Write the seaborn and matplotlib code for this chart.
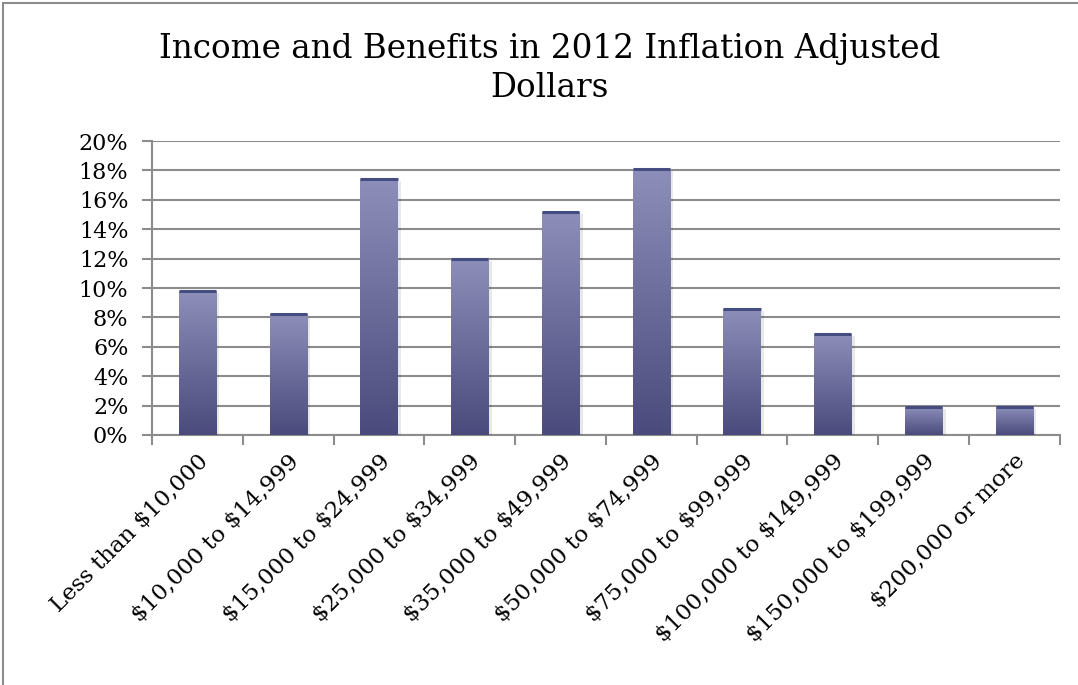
import numpy as np
import pandas as pd
import matplotlib
matplotlib.use("Agg")
import matplotlib.pyplot as plt
import matplotlib.patheffects as pe
from matplotlib.colors import LinearSegmentedColormap
from matplotlib.patches import Rectangle
from matplotlib.ticker import FixedLocator
import seaborn as sns

categories = [
    "Less than $10,000", "$10,000 to $14,999", "$15,000 to $24,999",
    "$25,000 to $34,999", "$35,000 to $49,999", "$50,000 to $74,999",
    "$75,000 to $99,999", "$100,000 to $149,999", "$150,000 to $199,999",
    "$200,000 or more",
]
shares = [9.8, 8.2, 17.4, 12.0, 15.2, 18.1, 8.6, 6.9, 1.9, 1.9]
y_ticks = [0, 2, 4, 6, 8, 10, 12, 14, 16, 18, 20]
y_labels = [f"{v}%" for v in y_ticks]
title = "Income and Benefits in 2012 Inflation Adjusted\nDollars"

df = pd.DataFrame({"bracket": categories, "share": shares})

sns.set_theme(style="white")
plt.rcParams["font.family"] = ["DejaVu Serif"]
plt.rcParams["text.parse_math"] = False
plt.rcParams["text.color"] = "black"
plt.rcParams["xtick.color"] = "black"
plt.rcParams["ytick.color"] = "black"

fig = plt.figure(figsize=(10.78, 6.85), dpi=100)
ax = fig.add_axes([0.141, 0.365, 0.842, 0.429])

sns.barplot(data=df, x="bracket", y="share", color="#6a6a9c", width=0.41,
            ax=ax, zorder=3)

# vertical gradient fill clipped to each bar, with a dark cap line on top
grad = LinearSegmentedColormap.from_list("bar", ["#4a4a7c", "#8e8eba"])
ramp = np.linspace(0, 1, 256).reshape(-1, 1)
for p in ax.patches:
    x0, y0 = p.get_x(), p.get_y()
    w, h = p.get_width(), p.get_height()
    p.set_edgecolor("none")
    p.set_path_effects([pe.SimplePatchShadow(offset=(2.5, -1.5), alpha=0.09,
                                             shadow_rgbFace="#000000"),
                        pe.Normal()])
    im = ax.imshow(ramp, cmap=grad, aspect="auto", origin="lower",
                   extent=(x0, x0 + w, y0, y0 + h), zorder=4)
    im.set_clip_path(p)
    ax.plot([x0, x0 + w], [y0 + h, y0 + h], color="#454c80", lw=2.2,
            solid_capstyle="butt", zorder=5)

ax.set_xlim(-0.5, len(categories) - 0.5)
ax.set_ylim(0, 20)
ax.set_yticks(y_ticks)
ax.set_yticklabels(y_labels, fontsize=16)
ax.set_xticks(range(len(categories)))
ax.set_xticklabels(categories, rotation=45, ha="right", rotation_mode="anchor",
                   fontsize=16.5)
ax.tick_params(axis="x", length=0, pad=11)
ax.tick_params(axis="y", length=7, width=1.5, color="#8c8c8c", labelcolor="black",
               pad=10, left=True)
ax.xaxis.set_minor_locator(FixedLocator(np.arange(-0.5, len(categories), 1.0)))
ax.tick_params(axis="x", which="minor", length=7, width=1.5, color="#8c8c8c",
               bottom=True)

ax.yaxis.grid(True, color="#8c8c8c", lw=1.5, zorder=1)
ax.set_axisbelow(True)
ax.set_xlabel("")
ax.set_ylabel("")
for s in ["top", "right"]:
    ax.spines[s].set_visible(False)
for s in ["left", "bottom"]:
    ax.spines[s].set_color("#8c8c8c")
    ax.spines[s].set_linewidth(1.5)

fig.text(0.51, 0.9, title, ha="center", va="center", fontsize=23.5,
         linespacing=1.25, color="black")

# chart-area frame
fig.patches.append(Rectangle((0.003, -0.01), 1.1, 1.005,
                             transform=fig.transFigure, fill=False,
                             edgecolor="#8c8c8c", lw=1.5))

fig.savefig("out.png", dpi=100)
